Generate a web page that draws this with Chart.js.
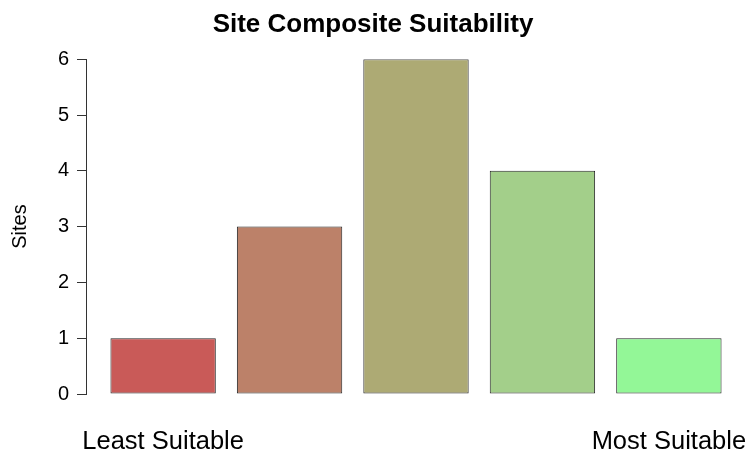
<!DOCTYPE html>
<html>
<head>
<meta charset="utf-8">
<script src="https://cdn.jsdelivr.net/npm/chart.js@4/dist/chart.umd.min.js"></script>
<style>
html,body{margin:0;padding:0;background:#fff;}
#wrap{width:746px;height:451px;}
</style>
</head>
<body>
<div id="wrap"><canvas id="c"></canvas></div>
<script>
const categories = ["Least Suitable", "", "", "", "Most Suitable"];
const sites = [1, 3, 6, 4, 1];
const barColors = ["#C95A58", "#BC8169", "#ADAA74", "#A3CF8A", "#93F797"];
const yTicks = [0, 1, 2, 3, 4, 5, 6];

// R barplot midpoints: width 1, space 0.2
const mids = categories.map((_, i) => 0.7 + 1.2 * i);
const points = sites.map((v, i) => ({ x: mids[i], y: v }));

const font = "'Liberation Sans', Arial, Helvetica, sans-serif";

new Chart(document.getElementById('c'), {
  type: 'bar',
  data: {
    datasets: [{
      data: points,
      backgroundColor: barColors,
      borderColor: '#262626',
      borderWidth: 1,
      borderSkipped: false,
      categoryPercentage: 1,
      barPercentage: 1 / 1.2
    }]
  },
  options: {
    responsive: true,
    maintainAspectRatio: false,
    animation: false,
    devicePixelRatio: 1,
    layout: { padding: { left: 0, right: 0, top: 0, bottom: 0 } },
    plugins: {
      legend: { display: false },
      tooltip: { enabled: false },
      title: {
        display: true,
        text: 'Site Composite Suitability',
        color: '#000',
        font: { family: font, size: 26, weight: 'bold', lineHeight: 1.2 },
        padding: { top: 9, bottom: 19 }
      }
    },
    scales: {
      x: {
        type: 'linear',
        offset: false,
        min: -0.032,
        max: 6.232,
        border: { display: false },
        grid: { display: false, drawTicks: false },
        afterBuildTicks: (s) => { s.ticks = mids.map(v => ({ value: v })); },
        afterFit: (s) => { s.height = 57; s.paddingLeft = 0; s.paddingRight = 0; },
        ticks: {
          autoSkip: false,
          maxRotation: 0,
          padding: 33,
          color: '#000',
          font: { family: font, size: 25.5 },
          callback: (v, i) => categories[i]
        }
      },
      y: {
        min: 0,
        max: 6,
        afterBuildTicks: (s) => { s.ticks = yTicks.map(v => ({ value: v })); },
        afterFit: (s) => { s.width = 86; },
        border: { display: true, color: '#333', width: 1 },
        grid: { drawOnChartArea: false, drawTicks: true, tickLength: 9, color: '#333' },
        ticks: {
          padding: 8,
          color: '#000',
          font: { family: font, size: 20 }
        },
        title: {
          display: true,
          text: 'Sites',
          color: '#000',
          font: { family: font, size: 20 },
          padding: { top: 8, bottom: 0 }
        }
      }
    }
  }
});
</script>
</body>
</html>
